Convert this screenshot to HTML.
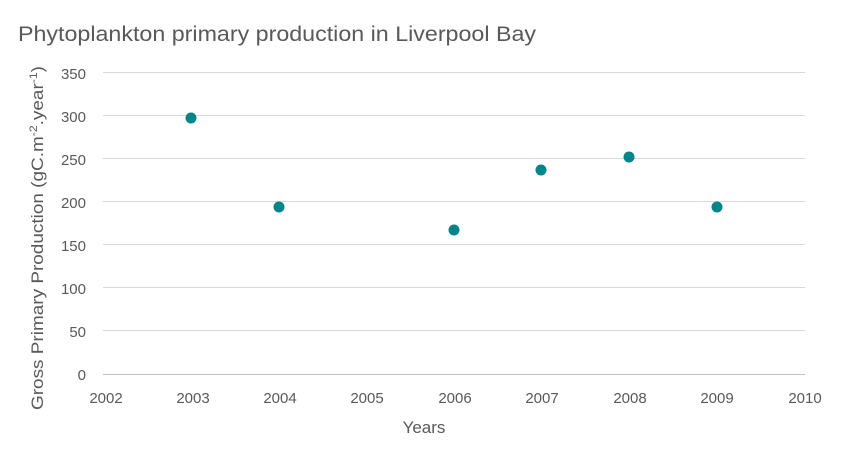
<!DOCTYPE html>
<html><head><meta charset="utf-8"><style>
body{margin:0;background:#fff;}
svg text{font-family:"Liberation Sans",sans-serif;fill:#595959;}
</style></head><body>
<svg width="846" height="467" xmlns="http://www.w3.org/2000/svg">
<rect width="846" height="467" fill="#fff"/>
<text x="18" y="41" font-size="21" textLength="518" lengthAdjust="spacingAndGlyphs">Phytoplankton primary production in Liverpool Bay</text>
<g stroke="#d9d9d9" stroke-width="1">
<line x1="103" x2="805" y1="72.5" y2="72.5"/>
<line x1="103" x2="805" y1="115.5" y2="115.5"/>
<line x1="103" x2="805" y1="158.5" y2="158.5"/>
<line x1="103" x2="805" y1="201.5" y2="201.5"/>
<line x1="103" x2="805" y1="244.5" y2="244.5"/>
<line x1="103" x2="805" y1="287.5" y2="287.5"/>
<line x1="103" x2="805" y1="330.5" y2="330.5"/>
<line x1="103" x2="805" y1="374.5" y2="374.5" stroke="#bfbfbf"/>
</g>
<g font-size="15" text-anchor="end">
<text x="86" y="79">350</text><text x="86" y="122">300</text><text x="86" y="165">250</text>
<text x="86" y="208">200</text><text x="86" y="251">150</text><text x="86" y="294">100</text>
<text x="86" y="337">50</text><text x="86" y="380">0</text>
</g>
<g font-size="15" text-anchor="middle">
<text x="106" y="403">2002</text><text x="193" y="403">2003</text><text x="280" y="403">2004</text>
<text x="367" y="403">2005</text><text x="455" y="403">2006</text><text x="542" y="403">2007</text>
<text x="630" y="403">2008</text><text x="717" y="403">2009</text><text x="805" y="403">2010</text>
</g>
<text x="424" y="433" font-size="17" text-anchor="middle">Years</text>
<text transform="translate(43,410) rotate(-90)" font-size="17" textLength="344" lengthAdjust="spacingAndGlyphs">Gross Primary Production (gC.m<tspan dy="-6" font-size="11">-2</tspan><tspan dy="6">.year</tspan><tspan dy="-6" font-size="11">-1</tspan><tspan dy="6">)</tspan></text>
<g fill="#00858a">
<circle cx="191" cy="118" r="5.5"/><circle cx="279" cy="207" r="5.5"/>
<circle cx="454" cy="230" r="5.5"/><circle cx="541" cy="170" r="5.5"/>
<circle cx="629" cy="157" r="5.5"/><circle cx="717" cy="207" r="5.5"/>
</g>
</svg>
</body></html>
